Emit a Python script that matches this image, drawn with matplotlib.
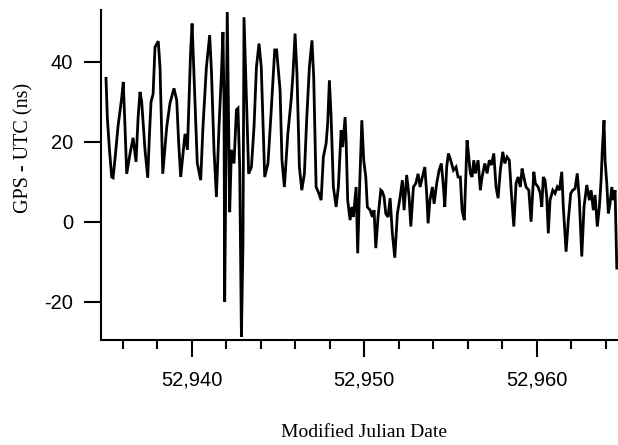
import matplotlib
matplotlib.use("Agg")
import matplotlib.pyplot as plt
from matplotlib.ticker import MultipleLocator, FuncFormatter

plt.rcParams["axes.unicode_minus"] = False

# Modified Julian Date of each sample
mjd = [
    52935.03, 52935.11, 52935.23, 52935.36, 52935.44, 52935.58, 52935.73, 52935.94,
    52936.03, 52936.13, 52936.23, 52936.42, 52936.60, 52936.77, 52936.89, 52937.00,
    52937.10, 52937.29, 52937.45, 52937.55, 52937.64, 52937.76, 52937.87, 52938.06,
    52938.16, 52938.32, 52938.55, 52938.74, 52938.97, 52939.13, 52939.24, 52939.36,
    52939.61, 52939.75, 52939.84, 52939.93, 52940.02, 52940.17, 52940.32, 52940.52,
    52940.65, 52940.85, 52941.04, 52941.14, 52941.29, 52941.43, 52941.58, 52941.72,
    52941.81, 52941.87, 52941.91, 52941.99, 52942.06, 52942.20, 52942.30, 52942.45,
    52942.59, 52942.68, 52942.78, 52942.88, 52942.97, 52943.03, 52943.17, 52943.30,
    52943.46, 52943.61, 52943.75, 52943.90, 52944.03, 52944.23, 52944.42, 52944.61,
    52944.81, 52944.92, 52945.12, 52945.23, 52945.37, 52945.57, 52945.76, 52945.86,
    52945.99, 52946.10, 52946.24, 52946.38, 52946.53, 52946.67, 52946.82, 52946.97,
    52947.07, 52947.21, 52947.36, 52947.50, 52947.63, 52947.79, 52947.88, 52947.98,
    52948.08, 52948.21, 52948.37, 52948.50, 52948.66, 52948.75, 52948.89, 52948.95,
    52949.04, 52949.18, 52949.28, 52949.37, 52949.53, 52949.62, 52949.72, 52949.86,
    52949.97, 52950.09, 52950.18, 52950.34, 52950.47, 52950.57, 52950.67, 52950.80,
    52950.96, 52951.05, 52951.15, 52951.25, 52951.38, 52951.50, 52951.63, 52951.77,
    52951.92, 52952.08, 52952.21, 52952.31, 52952.46, 52952.60, 52952.70, 52952.85,
    52952.99, 52953.12, 52953.24, 52953.37, 52953.51, 52953.62, 52953.70, 52953.81,
    52953.95, 52954.05, 52954.20, 52954.34, 52954.47, 52954.59, 52954.67, 52954.78,
    52954.88, 52955.01, 52955.17, 52955.32, 52955.44, 52955.57, 52955.67, 52955.80,
    52955.96, 52956.06, 52956.15, 52956.25, 52956.35, 52956.44, 52956.60, 52956.73,
    52956.83, 52956.99, 52957.12, 52957.25, 52957.37, 52957.51, 52957.64, 52957.76,
    52957.89, 52958.03, 52958.15, 52958.28, 52958.41, 52958.53, 52958.67, 52958.80,
    52958.92, 52959.05, 52959.15, 52959.25, 52959.38, 52959.54, 52959.67, 52959.83,
    52959.92, 52960.08, 52960.21, 52960.29, 52960.38, 52960.48, 52960.58, 52960.67,
    52960.77, 52960.93, 52961.06, 52961.19, 52961.31, 52961.45, 52961.54, 52961.70,
    52961.83, 52961.97, 52962.09, 52962.22, 52962.35, 52962.47, 52962.61, 52962.74,
    52962.90, 52963.05, 52963.15, 52963.28, 52963.38, 52963.51, 52963.63, 52963.73,
    52963.80, 52963.90, 52963.96, 52964.06, 52964.15, 52964.25, 52964.35, 52964.44,
    52964.54, 52964.64,
]

# GPS - UTC offset (ns)
offset_ns = [
    35.9, 25.9, 18.0, 11.2, 11.0, 17.0, 24.0, 31.0,
    35.0, 24.0, 12.0, 17.0, 21.0, 15.0, 26.0, 32.5,
    30.0, 18.0, 11.0, 22.0, 30.0, 32.0, 43.7, 45.2,
    38.7, 12.0, 23.7, 29.7, 33.4, 30.4, 20.0, 11.2,
    22.0, 18.0, 30.0, 42.0, 49.6, 32.0, 14.7, 10.4,
    23.7, 38.7, 46.7, 37.9, 18.0, 6.2, 23.7, 37.0,
    47.5, 30.0, -20.0, 20.0, 52.5, 2.4, 18.0, 14.6,
    28.0, 28.4, 13.7, -28.8, -5.4, 51.2, 30.4, 12.0,
    13.7, 23.7, 38.7, 44.6, 38.7, 11.2, 14.6, 28.0,
    43.0, 43.0, 33.0, 15.4, 8.7, 22.0, 30.4, 36.3,
    47.1, 37.1, 13.7, 7.9, 12.0, 26.2, 38.7, 45.4,
    36.3, 8.7, 7.2, 5.4, 16.2, 19.6, 24.6, 35.4,
    26.2, 8.7, 3.7, 8.7, 22.9, 18.7, 26.2, 20.4,
    5.4, 0.4, 3.7, 1.2, 8.7, -7.9, 7.1, 25.4,
    15.4, 11.2, 3.7, 2.9, 1.2, 2.9, -6.6, 1.2,
    7.9, 7.5, 6.2, 2.0, 1.2, 5.9, -2.9, -9.0,
    2.0, 6.2, 10.4, 2.9, 11.7, 6.2, -1.2, 8.7,
    9.6, 12.0, 8.7, 11.2, 13.7, 7.1, -0.4, 5.4,
    8.7, 4.5, 9.6, 12.9, 14.6, 8.7, 3.7, 13.7,
    17.1, 15.4, 12.9, 13.7, 11.2, 11.2, 2.9, 0.4,
    20.4, 16.2, 12.1, 11.2, 15.4, 12.1, 15.4, 7.9,
    11.2, 14.6, 12.1, 15.4, 14.2, 17.1, 8.7, 5.9,
    12.9, 17.5, 14.6, 16.2, 15.4, 7.1, -1.2, 9.6,
    11.2, 8.7, 13.3, 11.2, 8.7, 7.9, 0.0, 12.5,
    9.6, 8.7, 7.0, 3.7, 11.2, 10.4, 6.2, -2.9,
    5.4, 7.9, 7.1, 8.7, 7.9, 12.5, 3.7, -7.5,
    0.4, 7.1, 7.9, 8.3, 12.1, 5.4, -8.7, 3.7,
    9.2, 5.4, 7.9, 2.9, 6.7, -1.2, 3.7, 10.4,
    18.0, 25.4, 15.4, 9.6, 2.1, 4.6, 8.7, 5.4,
    7.9, -11.6,
]

y_ticks = [-20, 0, 20, 40]
x_ticks = [52940, 52950, 52960]

fig = plt.figure(figsize=(6.18, 4.45), dpi=100)
ax = fig.add_axes([101 / 618, 105 / 445, 517 / 618, 330 / 445])

ax.plot(mjd, offset_ns, color="black", linewidth=2.0, solid_joinstyle="miter")

ax.set_xlim(52934.74, 52964.71)
ax.set_ylim(-29.6, 53.0)

for side in ("top", "right"):
    ax.spines[side].set_visible(False)
for side in ("left", "bottom"):
    ax.spines[side].set_linewidth(1.5)

ax.set_xticks(x_ticks)
ax.xaxis.set_minor_locator(MultipleLocator(2))
ax.set_yticks(y_ticks)
ax.xaxis.set_major_formatter(FuncFormatter(lambda v, p: f"{v:,.0f}"))
ax.yaxis.set_major_formatter(FuncFormatter(lambda v, p: f"{v:.0f}"))

tick_font = "Liberation Sans"
ax.tick_params(axis="both", which="major", direction="out", length=12, width=1.5,
               labelsize=14.5, colors="black")
ax.tick_params(axis="x", which="minor", direction="out", length=6.5, width=1.5)
ax.tick_params(axis="x", which="major", pad=10)
ax.tick_params(axis="y", which="major", pad=8)
for lab in ax.get_xticklabels() + ax.get_yticklabels():
    lab.set_fontfamily(tick_font)

ax.set_xlabel("Modified Julian Date", fontsize=14, family="Liberation Serif")
ax.set_ylabel("GPS - UTC (ns)", fontsize=14.5, family="Liberation Serif")
ax.xaxis.set_label_coords(0.509, -0.279)
ax.yaxis.set_label_coords(-0.149, 0.582)
ax.xaxis.label.set_verticalalignment("center")
ax.yaxis.label.set_verticalalignment("center")

fig.savefig("out.png", dpi=100)
